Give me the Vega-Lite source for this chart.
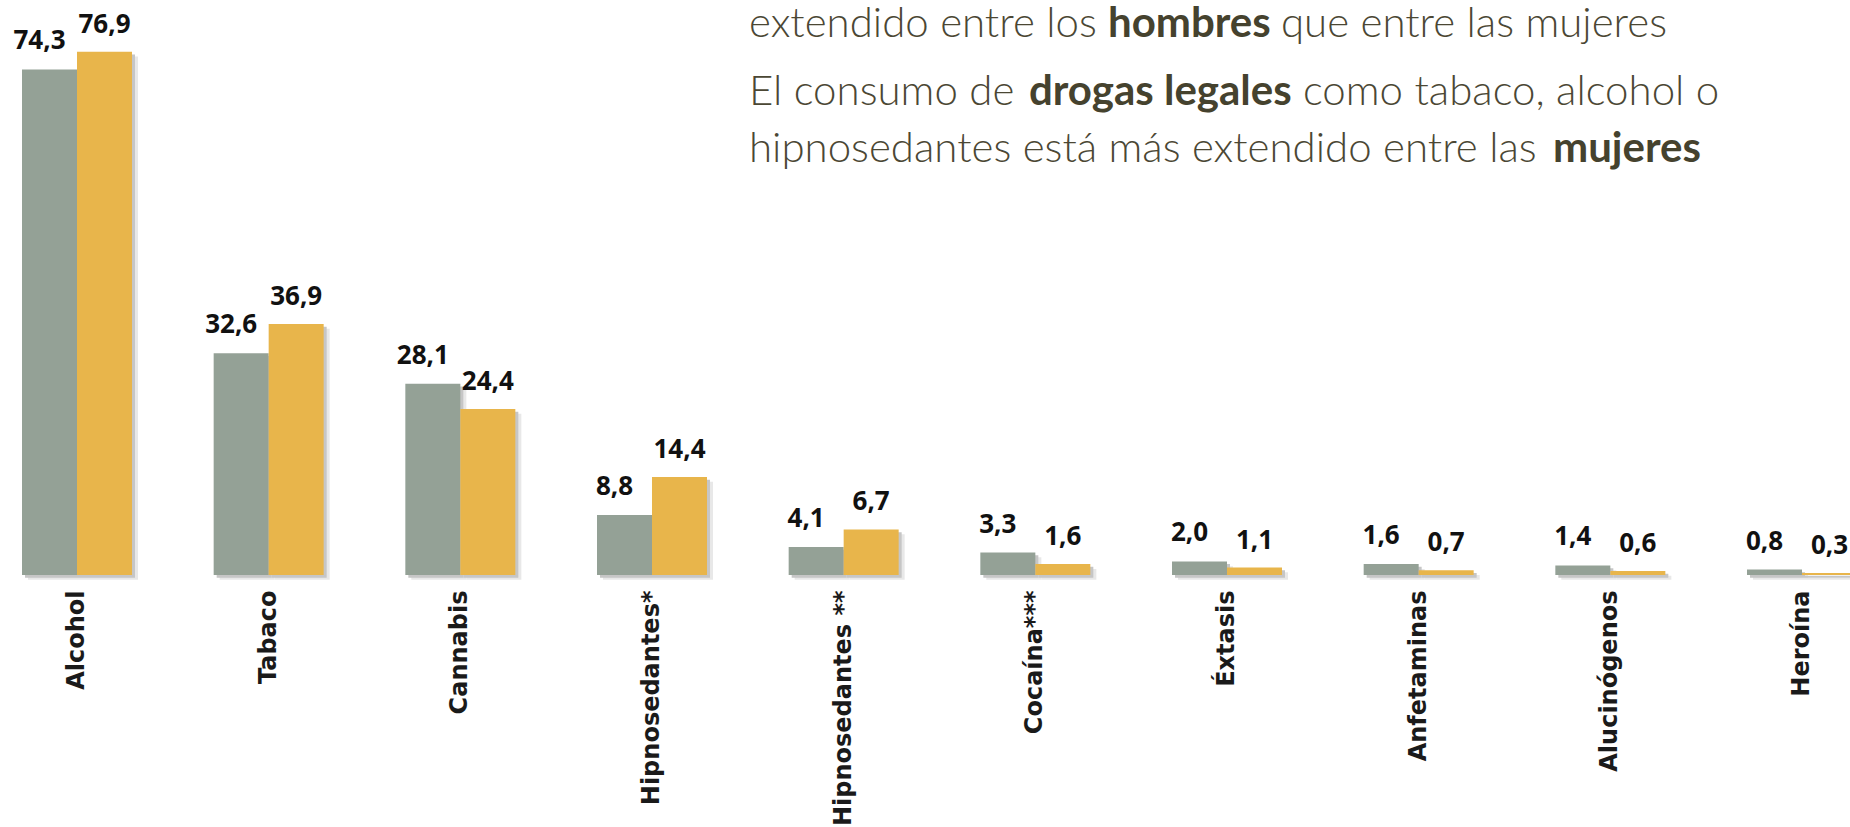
{
  "$schema": "https://vega.github.io/schema/vega-lite/v6.json",
  "width": 1850,
  "height": 575,
  "autosize": {"type": "none"},
  "padding": {"left": 0, "top": 0, "right": 0, "bottom": 252},
  "background": "white",
  "config": {
    "view": {"stroke": null},
    "locale": {"number": {"decimal": ",", "thousands": ".", "grouping": [3], "currency": ["", " €"]}},
    "axisX": {"labelAngle": -90, "labelAlign": "right", "labelBaseline": "middle", "labelFont": "DejaVu Sans", "labelFontWeight": "bold", "labelFontSize": 24, "labelColor": "#1a1a1a", "labelPadding": 15, "domain": false, "ticks": false, "grid": false, "labelLimit": 400}
  },
  "datasets": {
    "main": [
      {"droga": "Alcohol", "sexo": "Hombres", "pct": 74.3},
      {"droga": "Alcohol", "sexo": "Mujeres", "pct": 76.9},
      {"droga": "Tabaco", "sexo": "Hombres", "pct": 32.6},
      {"droga": "Tabaco", "sexo": "Mujeres", "pct": 36.9},
      {"droga": "Cannabis", "sexo": "Hombres", "pct": 28.1},
      {"droga": "Cannabis", "sexo": "Mujeres", "pct": 24.4},
      {"droga": "Hipnosedantes*", "sexo": "Hombres", "pct": 8.8},
      {"droga": "Hipnosedantes*", "sexo": "Mujeres", "pct": 14.4},
      {"droga": "Hipnosedantes **", "sexo": "Hombres", "pct": 4.1},
      {"droga": "Hipnosedantes **", "sexo": "Mujeres", "pct": 6.7},
      {"droga": "Cocaína***", "sexo": "Hombres", "pct": 3.3},
      {"droga": "Cocaína***", "sexo": "Mujeres", "pct": 1.6},
      {"droga": "Éxtasis", "sexo": "Hombres", "pct": 2.0},
      {"droga": "Éxtasis", "sexo": "Mujeres", "pct": 1.1},
      {"droga": "Anfetaminas", "sexo": "Hombres", "pct": 1.6},
      {"droga": "Anfetaminas", "sexo": "Mujeres", "pct": 0.7},
      {"droga": "Alucinógenos", "sexo": "Hombres", "pct": 1.4},
      {"droga": "Alucinógenos", "sexo": "Mujeres", "pct": 0.6},
      {"droga": "Heroína", "sexo": "Hombres", "pct": 0.8},
      {"droga": "Heroína", "sexo": "Mujeres", "pct": 0.3}
    ]
  },
  "data": {"name": "main"},
  "resolve": {"scale": {"y": "independent", "xOffset": "independent"}},
  "layer": [
    {
      "mark": {"type": "bar", "color": "#e8e8e8"},
      "encoding": {
        "x": {"field": "droga", "type": "nominal", "sort": null, "scale": {"range": [22, 1857], "paddingInner": 0.4261, "paddingOuter": 0}, "axis": {"title": null}},
        "xOffset": {"field": "sexo", "type": "nominal", "sort": ["Hombres", "Mujeres"], "scale": {"range": [6, 116], "paddingInner": 0, "paddingOuter": 0}},
        "y": {"field": "pct", "type": "quantitative", "scale": {"domain": [0.7, 85.2], "nice": false, "zero": false}, "axis": null}
      }
    },
    {
      "mark": {"type": "bar", "color": "#c6c6c6"},
      "encoding": {
        "x": {"field": "droga", "type": "nominal", "sort": null, "axis": {"title": null}},
        "xOffset": {"field": "sexo", "type": "nominal", "sort": ["Hombres", "Mujeres"], "scale": {"range": [3, 113], "paddingInner": 0, "paddingOuter": 0}},
        "y": {"field": "pct", "type": "quantitative", "scale": {"domain": [0.4, 84.9], "nice": false, "zero": false}, "axis": null}
      }
    },
    {
      "layer": [
        {
          "mark": {"type": "bar"},
          "encoding": {
            "x": {"field": "droga", "type": "nominal", "sort": null, "axis": {"title": null}},
            "xOffset": {"field": "sexo", "type": "nominal", "sort": ["Hombres", "Mujeres"], "scale": {"paddingInner": 0, "paddingOuter": 0}},
            "y": {"field": "pct", "type": "quantitative", "scale": {"domain": [0, 84.5], "nice": false}, "axis": null},
            "color": {"field": "sexo", "type": "nominal", "scale": {"domain": ["Hombres", "Mujeres"], "range": ["#94a196", "#e8b54b"]}, "legend": null}
          }
        },
        {
          "transform": [{"filter": "datum.sexo == 'Hombres'"}],
          "mark": {"type": "text", "font": "Open Sans", "fontWeight": 700, "fontSize": 26, "baseline": "middle", "dy": -28, "dx": -10, "color": "#111111"},
          "encoding": {
            "x": {"field": "droga", "type": "nominal", "sort": null, "axis": {"title": null}},
            "xOffset": {"field": "sexo", "type": "nominal", "sort": ["Hombres", "Mujeres"]},
            "y": {"field": "pct", "type": "quantitative", "axis": null},
            "text": {"field": "pct", "type": "quantitative", "format": ".1f"}
          }
        },
        {
          "transform": [{"filter": "datum.sexo == 'Mujeres'"}],
          "mark": {"type": "text", "font": "Open Sans", "fontWeight": 700, "fontSize": 26, "baseline": "middle", "dy": -27, "dx": 0, "color": "#111111"},
          "encoding": {
            "x": {"field": "droga", "type": "nominal", "sort": null, "axis": {"title": null}},
            "xOffset": {"field": "sexo", "type": "nominal", "sort": ["Hombres", "Mujeres"]},
            "y": {"field": "pct", "type": "quantitative", "axis": null},
            "text": {"field": "pct", "type": "quantitative", "format": ".1f"}
          }
        },
        {
          "data": {"values": [{}]},
          "mark": {"type": "text", "text": "extendido entre los", "font": "Lato", "fontWeight": 300, "fontSize": 42, "align": "left", "baseline": "alphabetic", "color": "#4b4734", "dx": -94.7},
          "encoding": {"x": {"datum": "Hipnosedantes **", "type": "nominal", "axis": {"title": null}}, "y": {"datum": 79.06, "type": "quantitative", "axis": null}}
        },
        {
          "data": {"values": [{}]},
          "mark": {"type": "text", "text": "hombres", "font": "Lato", "fontWeight": 700, "fontSize": 42, "align": "left", "baseline": "alphabetic", "color": "#45422e", "dx": 264.3},
          "encoding": {"x": {"datum": "Hipnosedantes **", "type": "nominal", "axis": {"title": null}}, "y": {"datum": 79.06, "type": "quantitative", "axis": null}}
        },
        {
          "data": {"values": [{}]},
          "mark": {"type": "text", "text": "que entre las mujeres", "font": "Lato", "fontWeight": 300, "fontSize": 42, "align": "left", "baseline": "alphabetic", "color": "#4b4734", "dx": 437.3},
          "encoding": {"x": {"datum": "Hipnosedantes **", "type": "nominal", "axis": {"title": null}}, "y": {"datum": 79.06, "type": "quantitative", "axis": null}}
        },
        {
          "data": {"values": [{}]},
          "mark": {"type": "text", "text": "El consumo de", "font": "Lato", "fontWeight": 300, "fontSize": 42, "align": "left", "baseline": "alphabetic", "color": "#4b4734", "dx": -94.7},
          "encoding": {"x": {"datum": "Hipnosedantes **", "type": "nominal", "axis": {"title": null}}, "y": {"datum": 69.07, "type": "quantitative", "axis": null}}
        },
        {
          "data": {"values": [{}]},
          "mark": {"type": "text", "text": "drogas legales", "font": "Lato", "fontWeight": 700, "fontSize": 42, "align": "left", "baseline": "alphabetic", "color": "#45422e", "dx": 185.3},
          "encoding": {"x": {"datum": "Hipnosedantes **", "type": "nominal", "axis": {"title": null}}, "y": {"datum": 69.07, "type": "quantitative", "axis": null}}
        },
        {
          "data": {"values": [{}]},
          "mark": {"type": "text", "text": "como tabaco, alcohol o", "font": "Lato", "fontWeight": 300, "fontSize": 42, "align": "left", "baseline": "alphabetic", "color": "#4b4734", "dx": 459.3},
          "encoding": {"x": {"datum": "Hipnosedantes **", "type": "nominal", "axis": {"title": null}}, "y": {"datum": 69.07, "type": "quantitative", "axis": null}}
        },
        {
          "data": {"values": [{}]},
          "mark": {"type": "text", "text": "hipnosedantes está más extendido entre las", "font": "Lato", "fontWeight": 300, "fontSize": 42, "align": "left", "baseline": "alphabetic", "color": "#4b4734", "dx": -94.7},
          "encoding": {"x": {"datum": "Hipnosedantes **", "type": "nominal", "axis": {"title": null}}, "y": {"datum": 60.69, "type": "quantitative", "axis": null}}
        },
        {
          "data": {"values": [{}]},
          "mark": {"type": "text", "text": "mujeres", "font": "Lato", "fontWeight": 700, "fontSize": 42, "align": "left", "baseline": "alphabetic", "color": "#45422e", "dx": 709.3},
          "encoding": {"x": {"datum": "Hipnosedantes **", "type": "nominal", "axis": {"title": null}}, "y": {"datum": 60.69, "type": "quantitative", "axis": null}}
        }
      ]
    }
  ]
}
